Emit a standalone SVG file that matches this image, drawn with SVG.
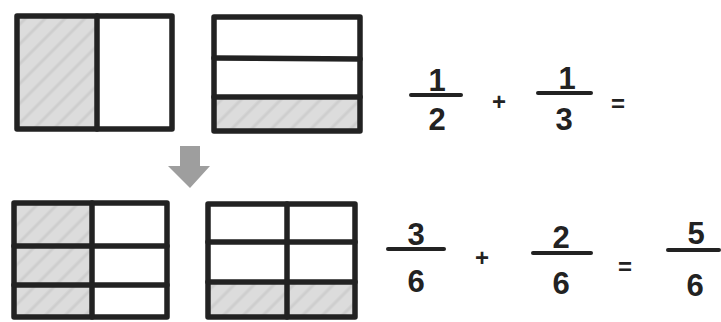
<svg xmlns="http://www.w3.org/2000/svg" width="721" height="322" viewBox="0 0 721 322">
<style>
.frame{fill:none;stroke:#222222;stroke-width:5.5;stroke-linejoin:round;stroke-linecap:round}
.div{stroke:#222222;stroke-width:5.5;stroke-linecap:round}
.shade{fill:url(#hatch)}
.num{font-family:"Liberation Sans",Arial,sans-serif;font-weight:bold;font-size:31px;fill:#222222;text-anchor:middle}
.op{font-family:"Liberation Sans",Arial,sans-serif;font-weight:bold;font-size:24px;fill:#222222;text-anchor:middle}
.bar{stroke:#222222;stroke-width:4;stroke-linecap:round}
</style>
<defs>
<pattern id="hatch" width="14" height="14" patternUnits="userSpaceOnUse" patternTransform="rotate(-45)">
<rect width="14" height="14" fill="#dcdcdc"/>
<line x1="0" y1="3" x2="14" y2="3" stroke="#cecece" stroke-width="3"/>
</pattern>
</defs>
<rect width="721" height="322" fill="#ffffff"/>
<g id="half">
<rect class="shade" x="17" y="16" width="80" height="113"/>
<rect class="frame" x="17" y="16" width="155" height="113"/>
<line class="div" x1="97" y1="16" x2="97" y2="129"/>
</g>
<g id="third">
<rect class="shade" x="214" y="97" width="146" height="34"/>
<rect class="frame" x="214" y="17" width="146" height="114"/>
<line class="div" x1="214" y1="58" x2="360" y2="59"/>
<line class="div" x1="214" y1="97" x2="360" y2="97"/>
</g>
<g id="connectors">
<path d="M180 146 H200 V166 H210 L190 188 L168 166 H180 Z" fill="#9e9e9e"/>
</g>
<g id="sixths-a">
<rect class="shade" x="14" y="203" width="79" height="114"/>
<rect class="frame" x="14" y="203" width="153" height="114"/>
<line class="div" x1="92" y1="203" x2="92" y2="317"/>
<line class="div" x1="14" y1="246" x2="167" y2="246"/>
<line class="div" x1="14" y1="285" x2="167" y2="285"/>
</g>
<g id="sixths-b">
<rect class="shade" x="208" y="282" width="147" height="35"/>
<rect class="frame" x="208" y="204" width="147" height="113"/>
<line class="div" x1="287" y1="204" x2="287" y2="317"/>
<line class="div" x1="208" y1="242" x2="355" y2="242"/>
<line class="div" x1="208" y1="282" x2="355" y2="282"/>
</g>
<g id="eq-top">
<text class="num" x="437" y="91">1</text>
<line class="bar" x1="411" y1="95" x2="461" y2="95"/>
<text class="num" x="437" y="130">2</text>
<text class="op" x="499" y="110">+</text>
<text class="num" x="567" y="89">1</text>
<line class="bar" x1="538" y1="93" x2="591" y2="93"/>
<text class="num" x="564" y="130">3</text>
<text class="op" x="618" y="112">=</text>
</g>
<g id="eq-bottom">
<text class="num" x="416" y="245">3</text>
<line class="bar" x1="388" y1="249" x2="444" y2="249"/>
<text class="num" x="416" y="292">6</text>
<text class="op" x="482" y="266">+</text>
<text class="num" x="561" y="248">2</text>
<line class="bar" x1="533" y1="253" x2="591" y2="253"/>
<text class="num" x="561" y="294">6</text>
<text class="op" x="625" y="275">=</text>
<text class="num" x="696" y="244">5</text>
<line class="bar" x1="668" y1="250" x2="719" y2="250"/>
<text class="num" x="695" y="296">6</text>
</g>
</svg>
